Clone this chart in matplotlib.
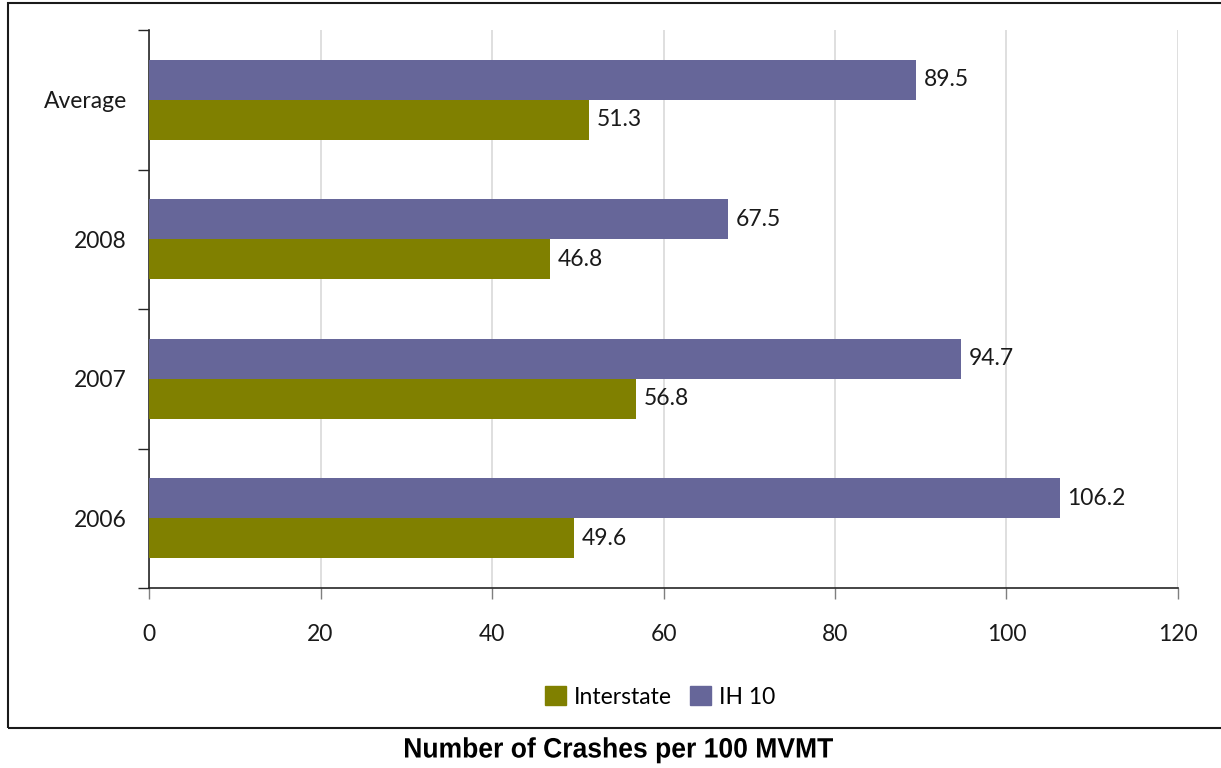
import matplotlib
matplotlib.use("Agg")
import matplotlib.pyplot as plt
import matplotlib.patches as mpatches
from matplotlib.textpath import TextPath
from matplotlib.font_manager import FontProperties
from matplotlib.transforms import Affine2D, IdentityTransform
import numpy as np

# Crash rates per 100 million vehicle miles travelled
CATEGORIES = ["2006", "2007", "2008", "Average"]
INTERSTATE = [49.6, 56.8, 46.8, 51.3]
IH10 = [106.2, 94.7, 67.5, 89.5]
X_TICKS = [0, 20, 40, 60, 80, 100, 120]
CAPTION = "Number of Crashes per 100 MVMT"

INTERSTATE_COLOR = "#808000"
IH10_COLOR = "#666699"
AXIS_COLOR = "#262626"
GRID_COLOR = "#d9d9d9"

plt.rcParams["font.family"] = ["Lato", "DejaVu Sans"]
FS = 16.5

W, H = 1221, 768
fig = plt.figure(figsize=(W / 100, H / 100), dpi=100)
fig.patch.set_facecolor("white")
ax = fig.add_axes([149 / W, 1 - 588 / H, (1178 - 149) / W, (588 - 30) / H])

# outer chart frame (right edge runs off the page)
frame = mpatches.Rectangle((8 / W, 1 - 728 / H), 1.02, (728 - 3) / H,
                           transform=fig.transFigure, fill=False,
                           edgecolor="#1a1a1a", lw=1.5, clip_on=False)
fig.patches.append(frame)

y = np.arange(len(CATEGORIES)) + 0.5
h = 40 / 140
ax.barh(y + h / 2, IH10, height=h, color=IH10_COLOR, zorder=3)
ax.barh(y - h / 2, INTERSTATE, height=h, color=INTERSTATE_COLOR, zorder=3)

for yi, v in zip(y + h / 2, IH10):
    ax.text(v + 0.9, yi, f"{v:.1f}", va="center", ha="left", fontsize=FS, color="#1a1a1a")
for yi, v in zip(y - h / 2, INTERSTATE):
    ax.text(v + 0.9, yi, f"{v:.1f}", va="center", ha="left", fontsize=FS, color="#1a1a1a")

ax.set_xlim(0, 120)
ax.set_ylim(0, len(CATEGORIES))
ax.set_xticks(X_TICKS)
ax.set_xticklabels([str(t) for t in X_TICKS], fontsize=FS, color="#1a1a1a")
ax.xaxis.grid(True, color=GRID_COLOR, lw=1.2, zorder=0)
ax.tick_params(axis="x", length=8, width=1, color="#7f7f7f", pad=18)

# group boundaries get ticks, category names sit between them
ax.set_yticks(np.arange(len(CATEGORIES) + 1))
ax.set_yticklabels([])
ax.set_yticks(y, minor=True)
ax.set_yticklabels(CATEGORIES, minor=True, fontsize=FS, color="#1a1a1a")
ax.tick_params(axis="y", which="major", length=8, width=1, color=AXIS_COLOR)
ax.tick_params(axis="y", which="minor", length=0, pad=16)

for s in ["top", "right"]:
    ax.spines[s].set_visible(False)
for s in ["left", "bottom"]:
    ax.spines[s].set_color(AXIS_COLOR)
    ax.spines[s].set_linewidth(1.2)

handles = [mpatches.Patch(color=INTERSTATE_COLOR, label="Interstate"),
           mpatches.Patch(color=IH10_COLOR, label="IH 10")]
fig.legend(handles=handles, loc="center", bbox_to_anchor=(660 / W, 1 - 697 / H),
           ncol=2, frameon=False, fontsize=FS, handlelength=0.9, handleheight=0.9,
           handletextpad=0.35, columnspacing=0.8)

# condensed bold caption under the frame: squeeze a bold outline horizontally
tp = TextPath((0, 0), CAPTION, size=28,
              prop=FontProperties(family="Liberation Sans", weight="bold"))
ext = tp.get_extents()
sx = 428 / ext.width
x0, baseline = 405, H - 757.5
cap_tf = Affine2D().translate(-ext.x0, 0).scale(sx, 1).translate(x0, baseline)
fig.patches.append(mpatches.PathPatch(tp, transform=cap_tf + IdentityTransform(),
                                      facecolor="black", edgecolor="none", lw=0))

fig.savefig("out.png", dpi=100, facecolor="white")
